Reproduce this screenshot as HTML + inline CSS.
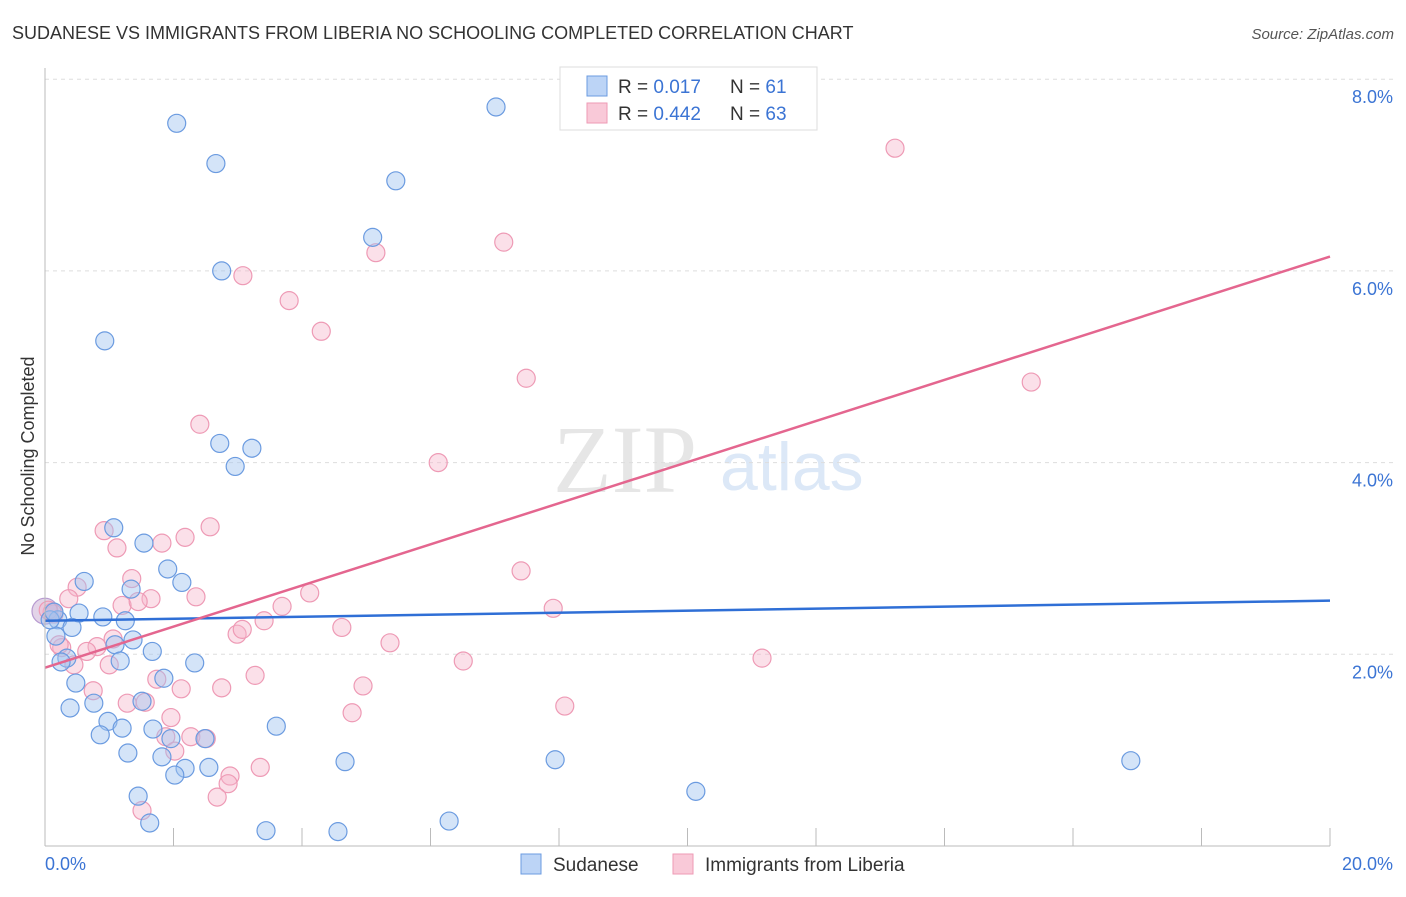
<!DOCTYPE html>
<html><head><meta charset="utf-8"><style>
body{margin:0;background:#fff;font-family:"Liberation Sans",sans-serif}
svg text{font-family:"Liberation Sans",sans-serif}
</style></head><body>
<svg id="c" width="1406" height="892">
<text x="12" y="39" font-size="18" fill="#333">SUDANESE VS IMMIGRANTS FROM LIBERIA NO SCHOOLING COMPLETED CORRELATION CHART</text>
<text x="1394" y="39" font-size="15" fill="#555" font-style="italic" text-anchor="end">Source: ZipAtlas.com</text>
<text x="553" y="492" font-size="96" fill="#e6e6e6" style="font-family:'Liberation Serif',serif">ZIP</text>
<text x="720" y="490" font-size="68" fill="#dce8f7">atlas</text>
<text transform="translate(34,456) rotate(-90)" font-size="18" fill="#333" text-anchor="middle">No Schooling Completed</text>
<g id="grid"></g><g id="pts"></g><g id="trend"></g>
<line x1="45" y1="68" x2="45" y2="846" stroke="#bbb"/>
<line x1="45" y1="846" x2="1330" y2="846" stroke="#bbb"/>
<text x="45" y="870" font-size="18" fill="#3b74d4">0.0%</text>
<text x="1393" y="870" font-size="18" fill="#3b74d4" text-anchor="end">20.0%</text>
<rect x="560" y="67" width="257" height="63" fill="#fff" stroke="#ddd"/>
<rect x="587" y="76" width="20" height="20" fill="#bcd4f6" stroke="#6b9be0"/>
<rect x="587" y="103" width="20" height="20" fill="#f9c9d8" stroke="#ee9ab5"/>
<text x="618" y="93" font-size="19" fill="#333">R = <tspan fill="#3b74d4">0.017</tspan><tspan x="730">N = </tspan><tspan fill="#3b74d4">61</tspan></text>
<text x="618" y="120" font-size="19" fill="#333">R = <tspan fill="#3b74d4">0.442</tspan><tspan x="730">N = </tspan><tspan fill="#3b74d4">63</tspan></text>
<rect x="521" y="854" width="20" height="20" fill="#bcd4f6" stroke="#6b9be0"/>
<text x="553" y="871" font-size="19" fill="#333">Sudanese</text>
<rect x="673" y="854" width="20" height="20" fill="#f9c9d8" stroke="#ee9ab5"/>
<text x="705" y="871" font-size="19" fill="#333">Immigrants from Liberia</text>
</svg>
<script>
const yTicks=[2,4,6,8];
const yTickLabels=["2.0%","4.0%","6.0%","8.0%"];
const xTicks=[2,4,6,8,10,12,14,16,18,20];
const blueX=[2.05,2.66,7.02,5.46,5.10,2.75,0.93,2.72,3.22,2.96,1.07,1.54,1.91,2.13,0.61,1.34,0.53,0.90,1.25,0.20,0.42,1.37,1.09,0.17,1.67,0.34,0.25,1.17,2.33,0.48,1.85,0.76,1.51,0.39,0.98,3.60,1.20,1.68,1.96,0.86,2.49,1.29,1.82,4.67,7.94,2.18,2.55,2.02,16.90,10.13,1.45,1.63,3.44,4.56,6.29,0.08,0.14];
const blueY=[7.54,7.12,7.71,6.94,6.35,6.00,5.27,4.20,4.15,3.96,3.32,3.16,2.89,2.75,2.76,2.68,2.43,2.39,2.35,2.36,2.28,2.15,2.10,2.19,2.03,1.96,1.92,1.93,1.91,1.70,1.75,1.49,1.51,1.44,1.30,1.25,1.23,1.22,1.12,1.16,1.12,0.97,0.93,0.88,0.90,0.81,0.82,0.74,0.89,0.57,0.52,0.24,0.16,0.15,0.26,2.36,2.44];
const pinkX=[13.23,7.14,5.15,3.08,3.80,4.30,7.49,15.35,2.41,6.12,2.57,0.92,2.18,1.12,1.82,7.41,1.35,0.50,4.12,1.65,2.35,0.37,1.20,1.45,3.69,7.91,3.41,4.62,2.99,3.07,0.14,1.06,0.26,0.81,5.37,0.65,0.22,0.45,1.00,6.51,11.16,3.27,1.74,0.75,2.12,2.75,4.95,1.28,1.56,4.78,8.09,1.96,2.27,1.88,2.51,2.02,3.35,2.88,2.85,2.68,1.51,0.11,0.05];
const pinkY=[7.28,6.30,6.19,5.95,5.69,5.37,4.88,4.84,4.40,4.00,3.33,3.29,3.22,3.11,3.16,2.87,2.79,2.70,2.64,2.58,2.60,2.58,2.51,2.55,2.50,2.48,2.35,2.28,2.21,2.26,2.42,2.16,2.07,2.08,2.12,2.03,2.10,1.89,1.89,1.93,1.96,1.78,1.74,1.62,1.64,1.65,1.67,1.49,1.50,1.39,1.46,1.34,1.14,1.14,1.12,0.99,0.82,0.73,0.65,0.51,0.37,2.44,2.46];
const bigX=[0.0]; const bigY=[2.45];
const trendX=[0,20];
const blueTrend=[2.35,2.56];
const pinkTrend=[1.86,6.15];
const NS="http://www.w3.org/2000/svg";
const sx=v=>45+v/20*1285, sy=v=>846-v*95.85;
function mk(tag,p,a){const e=document.createElementNS(NS,tag);for(const k in a)e.setAttribute(k,a[k]);p.appendChild(e);return e;}
const grid=document.getElementById('grid');
yTicks.forEach((t,i)=>{
 const l=mk('line',grid,{x1:45,x2:1393,y1:sy(t),y2:sy(t),stroke:'#ddd','stroke-dasharray':'4,4'});
 
 
 const tx=mk('text',grid,{x:1393,y:sy(t)+24,'font-size':18,fill:'#3b74d4','text-anchor':'end'});
 tx.textContent=yTickLabels[i];
 
 
});
xTicks.forEach(t=>{
 const l=mk('line',grid,{x1:sx(t),x2:sx(t),y1:828,y2:846,stroke:'#bbb'});
 
 
});
const pts=document.getElementById('pts');
function series(X,Y,fill,stroke,name,r){X.forEach((x,i)=>{
 const c=mk('circle',pts,{cx:sx(x),cy:sy(Y[i]),r:r,fill:fill,stroke:stroke,'stroke-width':1.2});
 
 
});}
series(bigX,bigY,'rgba(200,170,210,0.5)','#b79ad0','point-large',13);
series(pinkX,pinkY,'rgba(246,182,202,0.42)','#ee9ab5','point-liberia',9);
series(blueX,blueY,'rgba(160,196,240,0.45)','#6b9be0','point-sudanese',9);
const tr=document.getElementById('trend');
const b=mk('line',tr,{x1:sx(trendX[0]),y1:sy(blueTrend[0]),x2:sx(trendX[1]),y2:sy(blueTrend[1]),stroke:'#2f6fd6','stroke-width':2.5});


const p=mk('line',tr,{x1:sx(trendX[0]),y1:sy(pinkTrend[0]),x2:sx(trendX[1]),y2:sy(pinkTrend[1]),stroke:'#e4668f','stroke-width':2.5});


</script>
</body></html>
